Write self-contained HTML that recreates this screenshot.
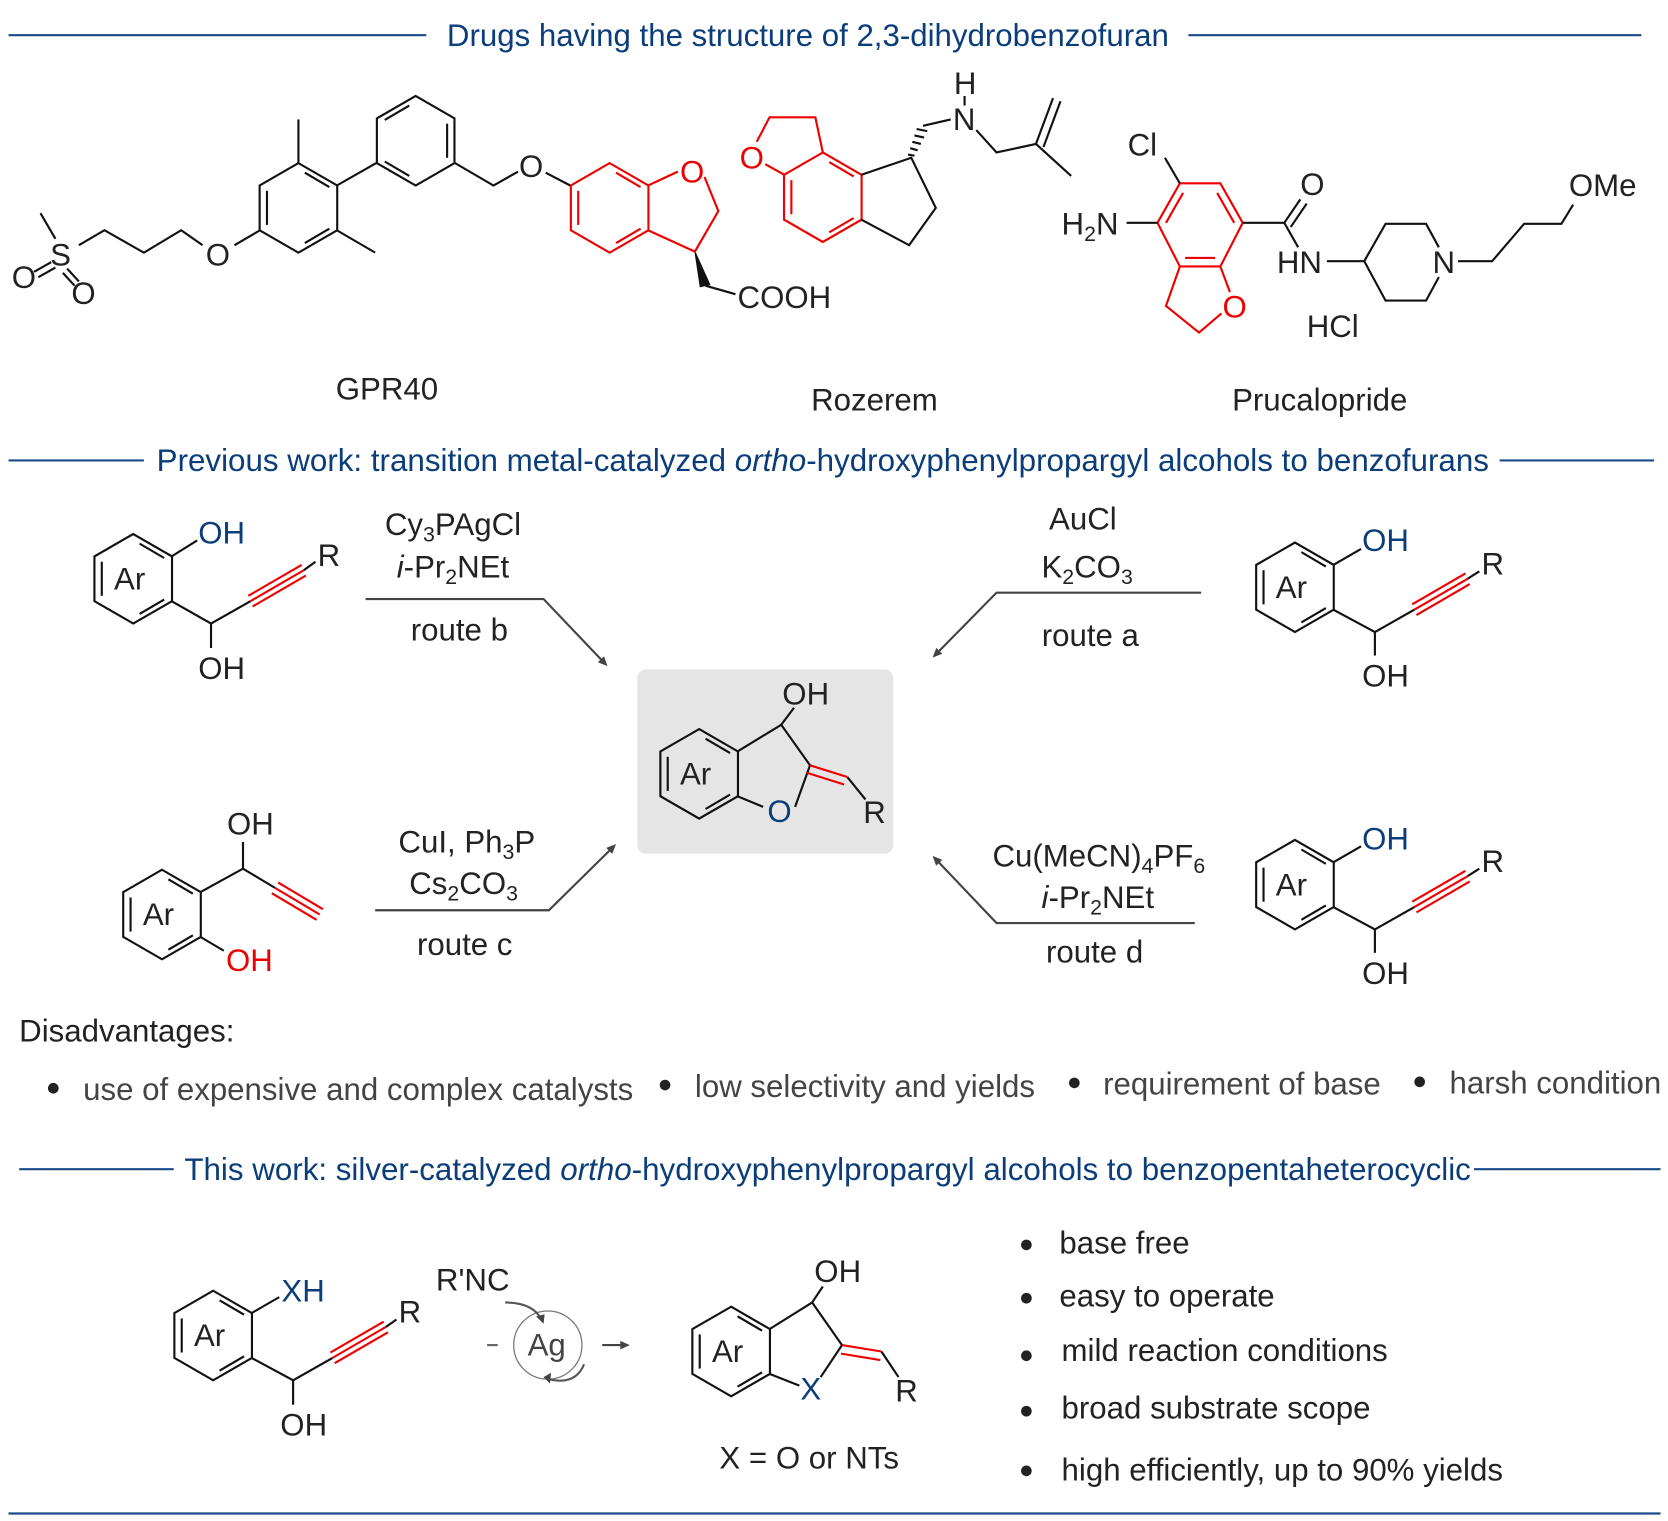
<!DOCTYPE html>
<html><head><meta charset="utf-8"><style>
html,body{margin:0;padding:0;background:#fff}
svg{display:block}
text{font-family:"Liberation Sans",Arial,sans-serif;font-size:29.3px;fill:#222}
.b{fill:#0a3d7a}
.t{fill:#0a3d7a}
.r{fill:#e00}
.g{fill:#444}
line,polyline,polygon,path{stroke-width:2;fill:none}
.f{fill:#444;stroke:none}
.k{fill:#111;stroke:#111;stroke-width:1}
</style></head><body>
<svg width="1668" height="1521" viewBox="0 0 1565 1427" xmlns="http://www.w3.org/2000/svg">
<defs>
<g id="hx"><polygon points="0,-42 36.4,-21 36.4,21 0,42 -36.4,21 -36.4,-21"/>
<line x1="6" y1="-33" x2="29" y2="-19.5"/><line x1="29" y1="19.5" x2="6" y2="33"/><line x1="-29.5" y1="16" x2="-29.5" y2="-16"/></g>
</defs>

<!-- section lines -->
<g stroke="#1a4a8a" stroke-width="1.3">
<line x1="8" y1="33" x2="400" y2="33"/><line x1="1115" y1="33" x2="1540" y2="33"/>
<line x1="8" y1="432" x2="135" y2="432"/><line x1="1407" y1="432" x2="1552" y2="432"/>
<line x1="18" y1="1097" x2="163" y2="1097"/><line x1="1383" y1="1097" x2="1558" y2="1097"/>
<line x1="8" y1="1420" x2="1558" y2="1420"/>
</g>
<text class="t" x="758" y="43" text-anchor="middle">Drugs having the structure of 2,3-dihydrobenzofuran</text>
<text class="t" x="147" y="442" textLength="1250" lengthAdjust="spacingAndGlyphs">Previous work: transition metal-catalyzed <tspan font-style="italic">ortho</tspan>-hydroxyphenylpropargyl alcohols to benzofurans</text>
<text class="t" x="173" y="1107" textLength="1207" lengthAdjust="spacingAndGlyphs">This work: silver-catalyzed <tspan font-style="italic">ortho</tspan>-hydroxyphenylpropargyl alcohols to benzopentaheterocyclic</text>

<!-- GPR40 -->
<g stroke="#111">
<use href="#hx" transform="translate(280,195)"/>
<line x1="280" y1="153" x2="280" y2="112"/>
<line x1="316" y1="216" x2="352" y2="237"/>
<line x1="316" y1="174" x2="353" y2="153"/>
<use href="#hx" transform="translate(390,132) scale(-1,1)"/>
<polyline points="427,153 463,174 486,161"/>
<line x1="512" y1="162" x2="535" y2="174"/>
<line x1="244" y1="216" x2="220" y2="230"/>
<polyline points="190,230 170,216 135,237 98,216 74,230"/>
<line x1="52" y1="224" x2="38" y2="200"/>
<line x1="48" y1="246" x2="32" y2="255"/><line x1="52" y1="251" x2="36" y2="260"/>
<line x1="63" y1="252" x2="74" y2="264"/><line x1="59" y1="256" x2="70" y2="268"/>
<line x1="662" y1="268" x2="690" y2="276"/>
</g>
<path class="k" d="M652,236 L657,269 L666,267 Z"/>
<g stroke="#e00">
<use href="#hx" transform="translate(572,195)"/>
<polyline points="608,174 636,161"/><polyline points="661,166 674,198 652,236 608,216"/>
</g>
<text x="487" y="166">O</text><text x="638" y="171" class="r">O</text>
<text x="193" y="249">O</text><text x="47" y="249">S</text>
<text x="11" y="270">O</text><text x="67" y="285">O</text>
<text x="692" y="289">COOH</text>
<text x="315" y="375">GPR40</text>

<!-- Rozerem -->
<g stroke="#e00">
<use href="#hx" transform="translate(772,185)"/>
<polyline points="736,164 718,154"/><polyline points="710,133 722,110 765,110 772,143"/>
</g>
<g stroke="#111">
<polyline points="808,164 855,148 878,195 853,230 808,206"/>
<line x1="866" y1="118" x2="892" y2="112"/>
<line x1="905" y1="90" x2="905" y2="99"/>
<polyline points="916,122 935,143 972,135 1005,165"/>
<line x1="972" y1="135" x2="988" y2="92"/><line x1="979" y1="138" x2="995" y2="95"/>
</g>
<g stroke="#111" stroke-width="1.5">
<line x1="852" y1="145" x2="858" y2="146"/><line x1="854" y1="139" x2="861" y2="141"/><line x1="856" y1="133" x2="864" y2="135"/><line x1="858" y1="127" x2="867" y2="129"/><line x1="860" y1="121" x2="870" y2="123"/>
</g>
<text x="694" y="158" class="r">O</text><text x="894" y="122">N</text><text x="895" y="88">H</text>
<text x="761" y="385">Rozerem</text>

<!-- Prucalopride -->
<g stroke="#e00">
<polygon points="1107,172 1145,172 1166,209 1145,250 1107,250 1086,209"/>
<line x1="1110" y1="181" x2="1094" y2="209"/><line x1="1112" y1="242" x2="1140" y2="242"/><line x1="1142" y1="181" x2="1158" y2="209"/>
<polyline points="1107,250 1094,287 1125,312 1146,294"/><line x1="1145" y1="250" x2="1154" y2="274"/>
</g>
<g stroke="#111">
<line x1="1107" y1="172" x2="1093" y2="148"/>
<line x1="1086" y1="209" x2="1057" y2="209"/>
<polyline points="1166,209 1205,209 1218,232"/>
<line x1="1205" y1="209" x2="1220" y2="187"/><line x1="1211" y1="213" x2="1226" y2="191"/>
<line x1="1245" y1="245" x2="1280" y2="245"/>
<polyline points="1280,245 1300,210 1338,210 1350,232"/>
<polyline points="1350,260 1338,282 1300,282 1280,245"/>
<polyline points="1368,245 1400,245 1430,210 1465,210 1476,192"/>
</g>
<text x="1058" y="146">Cl</text>
<text x="996" y="220">H<tspan font-size="20" dy="6">2</tspan><tspan dy="-6">N</tspan></text>
<text x="1220" y="183">O</text><text x="1198" y="256">HN</text><text x="1344" y="256">N</text>
<text x="1147" y="298" class="r">O</text>
<text x="1472" y="184">OMe</text><text x="1226" y="316">HCl</text>
<text x="1156" y="385">Prucalopride</text>

<!-- route substrates -->
<g stroke="#111">
<use href="#hx" transform="translate(125,543)"/>
<line x1="161" y1="522" x2="185" y2="507"/>
<polyline points="161,564 198,585 198,608"/><line x1="198" y1="585" x2="235" y2="564"/>
<line x1="285" y1="535" x2="296" y2="527"/>
<use href="#hx" transform="translate(1215,551)"/>
<line x1="1251" y1="530" x2="1277" y2="515"/>
<polyline points="1251,572 1290,593 1290,615"/><line x1="1290" y1="593" x2="1327" y2="572"/>
<line x1="1377" y1="543" x2="1388" y2="536"/>
<use href="#hx" transform="translate(1215,830)"/>
<line x1="1251" y1="809" x2="1277" y2="794"/>
<polyline points="1251,851 1290,872 1290,894"/><line x1="1290" y1="872" x2="1327" y2="851"/>
<line x1="1377" y1="822" x2="1388" y2="815"/>
<use href="#hx" transform="translate(152,858)"/>
<polyline points="188,837 228,815 228,790"/><line x1="228" y1="815" x2="258" y2="833"/>
<line x1="188" y1="879" x2="210" y2="892"/>
</g>
<g stroke="#e00">
<line x1="235" y1="564" x2="285" y2="535"/><line x1="237" y1="569" x2="287" y2="540"/><line x1="233" y1="559" x2="283" y2="530"/>
<line x1="1327" y1="572" x2="1377" y2="543"/><line x1="1329" y1="577" x2="1379" y2="548"/><line x1="1325" y1="567" x2="1375" y2="538"/>
<line x1="1327" y1="851" x2="1377" y2="822"/><line x1="1329" y1="856" x2="1379" y2="827"/><line x1="1325" y1="846" x2="1375" y2="817"/>
<line x1="258" y1="833" x2="300" y2="858"/><line x1="261" y1="828" x2="303" y2="853"/><line x1="255" y1="838" x2="297" y2="863"/>
</g>
<text x="107" y="553">Ar</text><text x="186" y="510" class="b">OH</text><text x="186" y="637">OH</text><text x="298" y="531">R</text>
<text x="1197" y="561">Ar</text><text x="1278" y="517" class="b">OH</text><text x="1278" y="644">OH</text><text x="1390" y="539">R</text>
<text x="1197" y="840">Ar</text><text x="1278" y="797" class="b">OH</text><text x="1278" y="923">OH</text><text x="1390" y="818">R</text>
<text x="134" y="868">Ar</text><text x="213" y="783">OH</text><text x="212" y="911" class="r">OH</text>

<!-- arrows and conditions -->
<g stroke="#444" stroke-width="1.3">
<polyline points="343,562 510,562 568,623"/>
<polyline points="1127,556 935,556 877,615"/>
<polyline points="352,854 515,854 576,794"/>
<polyline points="1121,866 935,866 877,805"/>
<line x1="565" y1="1262" x2="588" y2="1262"/>
</g>
<polygon class="f" points="570,625 560.9,621.3 566.7,615.7"/>
<polygon class="f" points="875,617 878.5,607.8 884.1,613.4"/>
<polygon class="f" points="578,792 574.4,801.1 568.8,795.5"/>
<polygon class="f" points="875,803 884.1,806.7 878.3,812.3"/>
<polygon class="f" points="591,1262 582,1258 582,1266"/>
<text x="425" y="502" text-anchor="middle">Cy<tspan font-size="20" dy="6">3</tspan><tspan dy="-6">PAgCl</tspan></text>
<text x="425" y="542" text-anchor="middle"><tspan font-style="italic">i</tspan>-Pr<tspan font-size="20" dy="6">2</tspan><tspan dy="-6">NEt</tspan></text>
<text x="431" y="601" text-anchor="middle">route b</text>
<text x="1016" y="497" text-anchor="middle">AuCl</text>
<text x="1020" y="542" text-anchor="middle">K<tspan font-size="20" dy="6">2</tspan><tspan dy="-6">CO</tspan><tspan font-size="20" dy="6">3</tspan></text>
<text x="1023" y="606" text-anchor="middle">route a</text>
<text x="438" y="800" text-anchor="middle">CuI, Ph<tspan font-size="20" dy="6">3</tspan><tspan dy="-6">P</tspan></text>
<text x="435" y="839" text-anchor="middle">Cs<tspan font-size="20" dy="6">2</tspan><tspan dy="-6">CO</tspan><tspan font-size="20" dy="6">3</tspan></text>
<text x="436" y="896" text-anchor="middle">route c</text>
<text x="1031" y="813" text-anchor="middle">Cu(MeCN)<tspan font-size="20" dy="6">4</tspan><tspan dy="-6">PF</tspan><tspan font-size="20" dy="6">6</tspan></text>
<text x="1030" y="852" text-anchor="middle"><tspan font-style="italic">i</tspan>-Pr<tspan font-size="20" dy="6">2</tspan><tspan dy="-6">NEt</tspan></text>
<text x="1027" y="903" text-anchor="middle">route d</text>

<!-- center product -->
<rect x="598" y="628" width="240" height="173" rx="8" fill="#e5e5e5"/>
<g stroke="#111">
<use href="#hx" transform="translate(656,726)"/>
<polyline points="692,705 733,680 760,718"/><line x1="733" y1="680" x2="745" y2="664"/>
<line x1="692" y1="747" x2="716" y2="757"/><line x1="746" y1="757" x2="760" y2="718"/>
<line x1="795" y1="729" x2="812" y2="750"/>
</g>
<g stroke="#e00"><line x1="760" y1="718" x2="795" y2="729"/><line x1="757" y1="725" x2="792" y2="736"/></g>
<text x="638" y="736">Ar</text><text x="734" y="661">OH</text><text x="720" y="771" class="b">O</text><text x="810" y="772">R</text>

<!-- disadvantages -->
<text x="18" y="977">Disadvantages:</text>
<g fill="#222"><circle cx="50" cy="1021" r="5"/><circle cx="624" cy="1018" r="5"/><circle cx="1008" cy="1016" r="5"/><circle cx="1332" cy="1015" r="5"/></g>
<text x="78" y="1032" class="g">use of expensive and complex catalysts</text>
<text x="652" y="1029" class="g">low selectivity and yields</text>
<text x="1035" y="1027" class="g">requirement of base</text>
<text x="1360" y="1026" class="g">harsh condition</text>

<!-- this work -->
<g stroke="#111">
<use href="#hx" transform="translate(200,1253)"/>
<line x1="236" y1="1232" x2="262" y2="1217"/>
<polyline points="236,1274 275,1295 275,1318"/><line x1="275" y1="1295" x2="312" y2="1274"/>
<line x1="362" y1="1245" x2="372" y2="1238"/>
<use href="#hx" transform="translate(686,1268)"/>
<polyline points="722,1247 762,1222 790,1262"/><line x1="762" y1="1222" x2="772" y2="1207"/>
<line x1="722" y1="1289" x2="750" y2="1300"/><line x1="770" y1="1292" x2="790" y2="1262"/>
<line x1="827" y1="1268" x2="843" y2="1292"/>
</g>
<g stroke="#e00">
<line x1="312" y1="1274" x2="362" y2="1245"/><line x1="314" y1="1279" x2="364" y2="1250"/><line x1="310" y1="1269" x2="360" y2="1240"/>
<line x1="790" y1="1262" x2="827" y2="1268"/><line x1="789" y1="1270" x2="826" y2="1276"/>
</g>
<text x="182" y="1263">Ar</text><text x="264" y="1221" class="b">XH</text><text x="263" y="1347">OH</text><text x="374" y="1241">R</text>
<text x="668" y="1278">Ar</text><text x="764" y="1203">OH</text><text x="751" y="1313" class="b">X</text><text x="840" y="1315">R</text>
<text x="675" y="1378">X = O or NTs</text>
<text x="409" y="1211">R'NC</text>
<circle cx="514" cy="1262" r="32" stroke="#777" stroke-width="1.2" fill="none"/>
<path d="M474,1222 Q500,1222 508,1238" stroke="#555" stroke-width="1.2"/>
<polygon class="f" points="510,1242 503,1235 511,1233"/>
<path d="M548,1280 Q540,1300 515,1294" stroke="#555" stroke-width="1.2"/>
<polygon class="f" points="510,1292 517,1288 516,1298"/>
<text x="495" y="1272" class="g">Ag</text>
<line x1="457" y1="1262" x2="467" y2="1262" stroke="#666" stroke-width="1.2"/>
<g fill="#222"><circle cx="963" cy="1168" r="5"/><circle cx="963" cy="1218" r="5"/><circle cx="963" cy="1272" r="5"/><circle cx="963" cy="1324" r="5"/><circle cx="963" cy="1380" r="5"/></g>
<text x="994" y="1176">base free</text>
<text x="994" y="1226">easy to operate</text>
<text x="996" y="1277">mild reaction conditions</text>
<text x="996" y="1331">broad substrate scope</text>
<text x="996" y="1389">high efficiently, up to 90% yields</text>
</svg>
</body></html>
